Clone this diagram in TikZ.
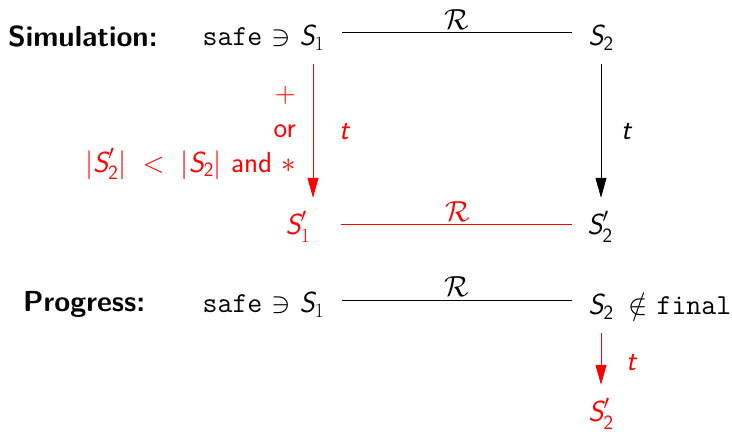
\RequirePackage{fix-cm}
\documentclass[tikz,border=0pt]{standalone}
\usepackage{amsmath,amssymb}
\usetikzlibrary{arrows.meta}
\newcommand{\sv}[1]{\textsf{\itshape #1}}
\newcommand{\one}{\textrm{1}}
\newcommand{\two}{\textsf{2}}
\begin{document}
\begin{tikzpicture}[x=1pt,y=-1pt,
  every node/.style={font=\fontsize{29}{35}\selectfont\sffamily, inner sep=0pt},
  lab/.style={font=\fontsize{29}{35}\selectfont\sffamily\bfseries},
  conn/.style={line width=0.8pt},
  arr/.style={line width=0.8pt,-{Triangle[length=20pt,width=11pt]}}]
\useasboundingbox (0,0) rectangle (732,435);
% row 1
\node[lab,anchor=base west] (simlab) at (8,47) {Simulation:};
\node[anchor=base east] (safe1) at (291,46) {\texttt{safe} $\ni$};
\node[anchor=base] (s1) at (312,46) {$\sv{S}_{\one}$};
\node[anchor=base] (s2) at (601,46) {$\sv{S}_{\two}$};
\draw[conn,shorten <=17pt,shorten >=16pt] ([yshift=5pt]s1.east) -- ([yshift=5pt]s1.east -| s2.west);
\node (r1) at (457,20) {$\mathcal{R}$};
% row 2
\node[anchor=base,red] (s1p) at (298,235) {$\sv{S}'_{\one}$};
\node[anchor=base] (s2p) at (600,235) {$\sv{S}'_{\two}$};
\draw[conn,red,shorten <=30pt,shorten >=15pt] ([yshift=2pt]s1p.east) -- ([yshift=2pt]s1p.east -| s2p.west);
\node[red] (r2) at (458,212) {$\mathcal{R}$};
\draw[arr,red,shorten <=13pt,shorten >=13pt] ([xshift=1pt]s1.south) -- ([xshift=1pt]s1.south |- s1p.north);
\draw[arr,shorten <=13pt,shorten >=13pt] (s2.south) -- (s2.south |- s2p.north);
\node[red] (t1) at (344,132) {$\sv{t}$};
\node[] (t2) at (626,132) {$\sv{t}$};
\node[red,align=right,anchor=east] (cond) at (296,133) {$+$\\or\\$|\sv{S}'_{\two}|\;<\;|\sv{S}_{\two}|$ and $*$};
% row 3
\node[lab,anchor=base west] (proglab) at (23,312) {Progress:};
\node[anchor=base east] (safe2) at (291,313) {\texttt{safe} $\ni$};
\node[anchor=base] (s1b) at (312,313) {$\sv{S}_{\one}$};
\node[anchor=base] (s2b) at (601,315) {$\sv{S}_{\two}$};
\node[anchor=base west] (nf) at (628,315) {$\notin$ \texttt{final}};
\draw[conn,shorten <=17pt,shorten >=16pt] ([yshift=4pt]s1b.east) -- ([yshift=4pt]s1b.east -| s2b.west);
\node (r3) at (457,287) {$\mathcal{R}$};
\node[anchor=base,red] (s2pb) at (601,422) {$\sv{S}'_{\two}$};
\draw[arr,red,shorten <=13pt,shorten >=13pt] (s2b.south) -- (s2pb.north);
\node[red] (t3) at (631,363) {$\sv{t}$};
\end{tikzpicture}
\end{document}
